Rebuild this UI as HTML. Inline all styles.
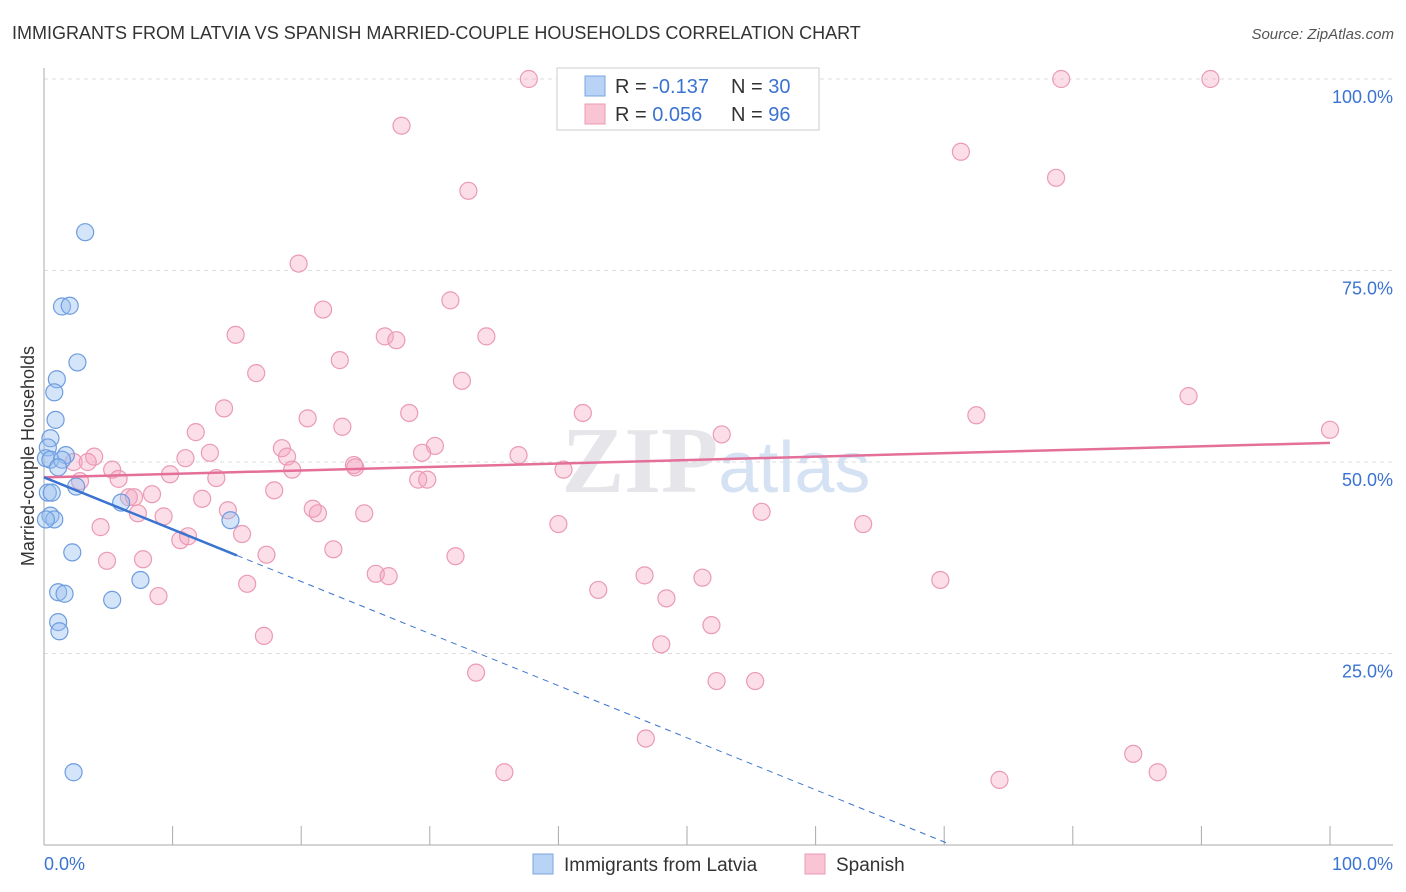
<!DOCTYPE html>
<html><head><meta charset="utf-8"><style>
body{margin:0;background:#fff;font-family:"Liberation Sans",sans-serif}
svg{display:block}
</style></head><body>
<svg id="c" width="1406" height="892">
<text x="12" y="39" font-size="18" fill="#333">IMMIGRANTS FROM LATVIA VS SPANISH MARRIED-COUPLE HOUSEHOLDS CORRELATION CHART</text>
<text x="1394" y="39" font-size="15" fill="#555" font-style="italic" text-anchor="end">Source: ZipAtlas.com</text>
<text x="34" y="456" font-size="18" fill="#333" text-anchor="middle" transform="rotate(-90 34 456)">Married-couple Households</text>
<text x="716" y="492" font-size="94" fill="#e6e6ea" text-anchor="middle" font-family="Liberation Serif,serif" font-weight="bold">ZIP<tspan fill="#d4e2f4" font-family="Liberation Sans,sans-serif" font-weight="normal" font-size="72">atlas</tspan></text>
<g id="grid"></g><g id="pts"></g><g id="lines"></g>
<g>
<rect x="557" y="68" width="262" height="62" fill="#fff" stroke="#ccc"/>
<rect x="585" y="76" width="20" height="20" fill="#b8d3f5" stroke="#7aa6e0"/>
<rect x="585" y="104" width="20" height="20" fill="#f9c5d5" stroke="#eb9ab4"/>
<text x="615" y="93" font-size="20" fill="#333">R = <tspan fill="#3b73d1">-0.137</tspan></text>
<text x="731" y="93" font-size="20" fill="#333">N = <tspan fill="#3b73d1">30</tspan></text>
<text x="615" y="121" font-size="20" fill="#333">R = <tspan fill="#3b73d1"> 0.056</tspan></text>
<text x="731" y="121" font-size="20" fill="#333">N = <tspan fill="#3b73d1">96</tspan></text>
</g>
<g>
<rect x="533" y="854" width="20" height="20" fill="#b8d3f5" stroke="#7aa6e0"/>
<text x="564" y="871" font-size="19" fill="#333">Immigrants from Latvia</text>
<rect x="805" y="854" width="20" height="20" fill="#f9c5d5" stroke="#eb9ab4"/>
<text x="836" y="871" font-size="19" fill="#333">Spanish</text>
</g>
</svg>
<script>
const yTicks=[25,50,75,100];
const yTickLabels=["25.0%","50.0%","75.0%","100.0%"];
const latviaX=[3.2,1.4,2.0,2.6,1.0,0.8,0.9,0.5,0.3,0.15,0.5,1.7,1.4,1.1,0.3,0.6,2.5,6.0,0.5,0.8,0.15,14.5,2.2,1.1,1.6,7.5,5.3,1.1,1.2,2.3];
const latviaY=[80.0,70.3,70.4,63.0,60.8,59.1,55.5,53.1,51.9,50.5,50.3,50.9,50.3,49.3,46.0,46.0,46.8,44.7,43.0,42.5,42.5,42.4,38.2,33.0,32.8,34.6,32.0,29.1,27.9,9.5];
const spanishX=[37.7,79.1,90.7,27.8,71.3,33.0,78.7,19.8,31.6,21.7,14.9,34.4,26.5,27.4,23.0,16.5,32.5,89.0,14.0,28.4,41.9,72.5,20.5,23.2,100,11.8,52.7,30.4,18.5,12.9,29.4,18.9,36.9,3.9,2.3,3.4,11.0,24.1,24.2,5.3,19.3,40.4,9.8,13.4,5.8,2.8,29.1,29.8,17.9,8.4,6.6,7.0,12.3,20.9,21.3,14.3,24.9,7.3,9.3,55.8,40.0,63.7,4.4,15.4,10.6,11.2,22.5,17.3,32.0,4.9,7.7,25.8,26.8,46.7,51.2,69.7,15.8,43.1,8.9,48.4,51.9,17.1,48.0,33.6,52.3,55.3,46.8,84.7,35.8,86.6,74.3];
const spanishY=[100,100,100,93.9,90.5,85.4,87.1,75.9,71.1,69.9,66.6,66.4,66.4,65.9,63.3,61.6,60.6,58.6,57.0,56.4,56.4,56.1,55.7,54.6,54.2,53.9,53.6,52.1,51.8,51.2,51.2,50.7,50.9,50.7,50.0,50.0,50.5,49.6,49.3,49.0,49.0,49.0,48.4,47.9,47.8,47.5,47.7,47.7,46.3,45.8,45.4,45.4,45.2,43.9,43.3,43.7,43.3,43.3,42.9,43.5,41.9,41.9,41.5,40.6,39.8,40.3,38.6,37.9,37.7,37.1,37.3,35.4,35.1,35.2,34.9,34.6,34.1,33.3,32.5,32.2,28.7,27.3,26.2,22.5,21.4,21.4,13.9,11.9,9.5,9.5,8.5];
const X0=44,X1=1330,Y0=845,Y100=79;
const sx=v=>X0+(X1-X0)*v/100, sy=v=>Y0-(Y0-Y100)*v/100;
const NS="http://www.w3.org/2000/svg";
function mk(t,a,p){const e=document.createElementNS(NS,t);for(const k in a)e.setAttribute(k,a[k]);p.appendChild(e);return e;}
const g=document.getElementById('grid');
yTicks.forEach((t,i)=>{
 const l=mk('line',{x1:X0,x2:1393,y1:sy(t),y2:sy(t),stroke:'#ddd','stroke-dasharray':'4,4'},g);
 
 
 const tx=mk('text',{x:1393,y:sy(t)+24,'font-size':18,fill:'#3b73d1','text-anchor':'end'},g);tx.textContent=yTickLabels[i];
 
 
});
mk('line',{x1:X0,x2:X0,y1:68,y2:Y0,stroke:'#aaa'},g);
mk('line',{x1:X0,x2:1393,y1:Y0,y2:Y0,stroke:'#aaa'},g);
for(let i=1;i<=10;i++){mk('line',{x1:sx(i*10),x2:sx(i*10),y1:826,y2:Y0,stroke:'#aaa'},g);}
let t0=mk('text',{x:44,y:870,'font-size':18,fill:'#3b73d1'},g);t0.textContent="0.0%";


let t1=mk('text',{x:1393,y:870,'font-size':18,fill:'#3b73d1','text-anchor':'end'},g);t1.textContent="100.0%";


const P=document.getElementById('pts');
spanishX.forEach((x,i)=>{const c=mk('circle',{cx:sx(x),cy:sy(spanishY[i]),r:8.5,fill:'rgba(244,160,188,0.35)',stroke:'#eb9ab4','stroke-width':1.2},P);
 
 });
latviaX.forEach((x,i)=>{const c=mk('circle',{cx:sx(x),cy:sy(latviaY[i]),r:8.5,fill:'rgba(150,190,240,0.4)',stroke:'#6d9ce0','stroke-width':1.2},P);
 
 });
const L=document.getElementById('lines');
let a=mk('line',{x1:sx(0),y1:sy(48.0),x2:sx(100),y2:sy(52.5),stroke:'#e4709a','stroke-width':2.5},L);


const bs=48.0,bm=-0.68;
let b=mk('line',{x1:sx(0),y1:sy(bs),x2:sx(15),y2:sy(bs+bm*15),stroke:'#3b73d1','stroke-width':2.5},L);


let d=mk('line',{x1:sx(15),y1:sy(bs+bm*15),x2:sx(70.3),y2:sy(bs+bm*70.3),stroke:'#3b73d1','stroke-width':1,'stroke-dasharray':'6,5'},L);


</script>
</body></html>
